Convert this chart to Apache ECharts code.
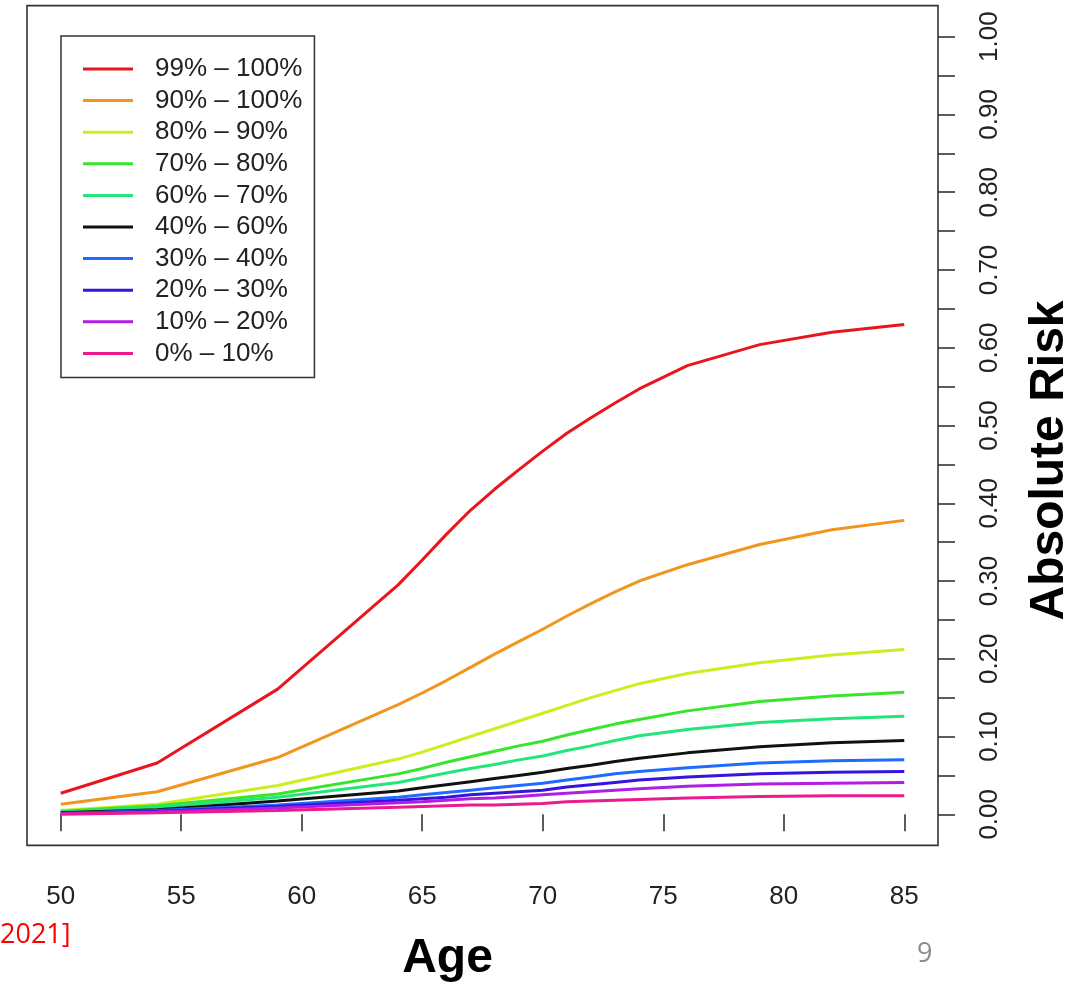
<!DOCTYPE html>
<html>
<head>
<meta charset="utf-8">
<title>Absolute Risk by Age</title>
<script src="https://cdn.jsdelivr.net/npm/echarts@6/dist/echarts.min.js"></script>
<style>
  html, body { margin: 0; padding: 0; background: #fff; }
  #chart { width: 1084px; height: 982px; }
</style>
</head>
<body>
<div id="chart"></div>
<script>
// Ages at which absolute risk was evaluated
const ages = [50, 54, 59, 64, 65, 66, 67, 68, 69, 70, 71, 72, 73, 74, 76, 79, 82, 85];

// Cumulative absolute risk per polygenic-score percentile band
const risk99to100 = [0.027, 0.066, 0.161, 0.295, 0.327, 0.360, 0.391, 0.418, 0.443, 0.467, 0.490, 0.510, 0.529, 0.547, 0.577, 0.604, 0.620, 0.630];
const risk90to100 = [0.013, 0.029, 0.073, 0.141, 0.156, 0.172, 0.189, 0.206, 0.222, 0.238, 0.255, 0.271, 0.286, 0.300, 0.321, 0.347, 0.366, 0.378];
const risk80to90  = [0.005, 0.013, 0.037, 0.071, 0.080, 0.090, 0.100, 0.110, 0.120, 0.130, 0.140, 0.150, 0.159, 0.168, 0.181, 0.195, 0.205, 0.212];
const risk70to80  = [0.004, 0.011, 0.026, 0.052, 0.059, 0.067, 0.074, 0.081, 0.088, 0.094, 0.102, 0.109, 0.116, 0.122, 0.133, 0.145, 0.152, 0.157];
const risk60to70  = [0.003, 0.009, 0.022, 0.041, 0.047, 0.053, 0.059, 0.064, 0.070, 0.075, 0.082, 0.088, 0.095, 0.101, 0.109, 0.118, 0.123, 0.126];
const risk40to60  = [0.002, 0.006, 0.017, 0.030, 0.034, 0.038, 0.042, 0.046, 0.050, 0.054, 0.059, 0.063, 0.068, 0.072, 0.079, 0.087, 0.092, 0.095];
const risk30to40  = [0.001, 0.005, 0.012, 0.022, 0.025, 0.028, 0.031, 0.034, 0.037, 0.040, 0.044, 0.048, 0.052, 0.055, 0.060, 0.066, 0.069, 0.070];
const risk20to30  = [0.001, 0.004, 0.010, 0.018, 0.020, 0.022, 0.025, 0.027, 0.029, 0.031, 0.035, 0.038, 0.041, 0.044, 0.048, 0.052, 0.054, 0.055];
const risk10to20  = [0.001, 0.003, 0.008, 0.015, 0.016, 0.018, 0.020, 0.021, 0.023, 0.025, 0.027, 0.029, 0.031, 0.033, 0.036, 0.039, 0.040, 0.041];
const risk0to10   = [0.000, 0.002, 0.005, 0.009, 0.010, 0.011, 0.012, 0.012, 0.013, 0.014, 0.016, 0.017, 0.018, 0.019, 0.021, 0.023, 0.024, 0.024];

const bandNames = ['99% \u2013 100%', '90% \u2013 100%', '80% \u2013 90%', '70% \u2013 80%', '60% \u2013 70%',
                   '40% \u2013 60%', '30% \u2013 40%', '20% \u2013 30%', '10% \u2013 20%', '0% \u2013 10%'];
const bandValues = [risk99to100, risk90to100, risk80to90, risk70to80, risk60to70,
                    risk40to60, risk30to40, risk20to30, risk10to20, risk0to10];
const bandColors = ['#e8161c', '#f0961e', '#cdee1e', '#35e62a', '#22e67a',
                    '#111111', '#1f6bff', '#3614dc', '#b01ee6', '#ec1a8e'];

// Axis tick positions
const ageTicks = [50, 55, 60, 65, 70, 75, 80, 85];
const riskTicks = [0, 0.05, 0.1, 0.15, 0.2, 0.25, 0.3, 0.35, 0.4, 0.45, 0.5,
                   0.55, 0.6, 0.65, 0.7, 0.75, 0.8, 0.85, 0.9, 0.95, 1.0];
const riskLabels = [0, 0.1, 0.2, 0.3, 0.4, 0.5, 0.6, 0.7, 0.8, 0.9, 1.0];

const FONT = '"Liberation Sans", Arial, Helvetica, sans-serif';
const AXIS_COLOR = '#333';

const chart = echarts.init(document.getElementById('chart'), null, { renderer: 'canvas' });

const series = bandNames.map((name, i) => ({
  name: name,
  type: 'line',
  data: ages.map((a, j) => [a, bandValues[i][j]]),
  symbol: 'none',
  lineStyle: { color: bandColors[i], width: 3 },
  itemStyle: { color: bandColors[i] },
  z: 2 + i,
  silent: true,
  animation: false
}));

chart.setOption({
  animation: false,
  backgroundColor: '#fff',
  grid: {
    left: 27, right: 146, top: 5.6, bottom: 136.6,
    containLabel: false,
    outerBoundsMode: 'none',
    show: true, borderColor: AXIS_COLOR, borderWidth: 1.6, backgroundColor: 'transparent'
  },
  legend: {
    orient: 'vertical',
    left: 61, top: 36,
    padding: [20, 12, 11, 22],
    itemGap: 5.6,
    itemWidth: 50,
    itemHeight: 3,
    icon: 'rect',
    borderColor: AXIS_COLOR,
    borderWidth: 1.5,
    backgroundColor: '#fff',
    selectedMode: false,
    data: bandNames,
    textStyle: {
      fontFamily: FONT, fontSize: 26, lineHeight: 26, color: '#222',
      padding: [0, 0, 0, 17]
    }
  },
  xAxis: {
    type: 'value',
    min: 48.6, max: 86.4,
    name: 'Age',
    nameLocation: 'middle',
    nameGap: 89,
    nameTextStyle: {
      fontFamily: FONT, fontSize: 48, fontWeight: 'bold', color: '#000',
      padding: [0, 70, 0, 0]
    },
    splitLine: { show: false },
    axisLine: { show: false },
    axisTick: {
      show: true, length: 17, inside: false,
      customValues: ageTicks,
      lineStyle: { color: AXIS_COLOR, width: 1.6 }
    },
    axisLabel: {
      customValues: ageTicks,
      margin: 38,
      fontFamily: FONT, fontSize: 26, color: '#222',
      formatter: v => String(v)
    }
  },
  yAxis: {
    type: 'value',
    position: 'right',
    min: -0.04, max: 1.04,
    name: 'Absolute Risk',
    nameLocation: 'middle',
    nameGap: 88,
    nameRotate: 90,
    nameTextStyle: {
      fontFamily: FONT, fontSize: 48, fontWeight: 'bold', color: '#000',
      padding: [0, 70, 0, 0]
    },
    splitLine: { show: false },
    axisLine: { show: false },
    axisTick: {
      show: true, length: 17, inside: false,
      customValues: riskTicks,
      lineStyle: { color: AXIS_COLOR, width: 1.6 }
    },
    axisLabel: {
      customValues: riskLabels,
      rotate: 90,
      margin: 39,
      fontFamily: FONT, fontSize: 26, color: '#222',
      formatter: v => v.toFixed(2)
    }
  },
  graphic: [
    {
      type: 'text', left: 0, top: 922,
      style: { text: '2021]', fontFamily: '"Open Sans", "Noto Sans", sans-serif', fontSize: 27, fill: '#ff0000' }
    },
    {
      type: 'text', left: 917, top: 941,
      style: { text: '9', fontFamily: '"Open Sans", "Noto Sans", sans-serif', fontSize: 27, fill: '#8c8c8c' }
    }
  ],
  series: series
});
</script>
</body>
</html>
